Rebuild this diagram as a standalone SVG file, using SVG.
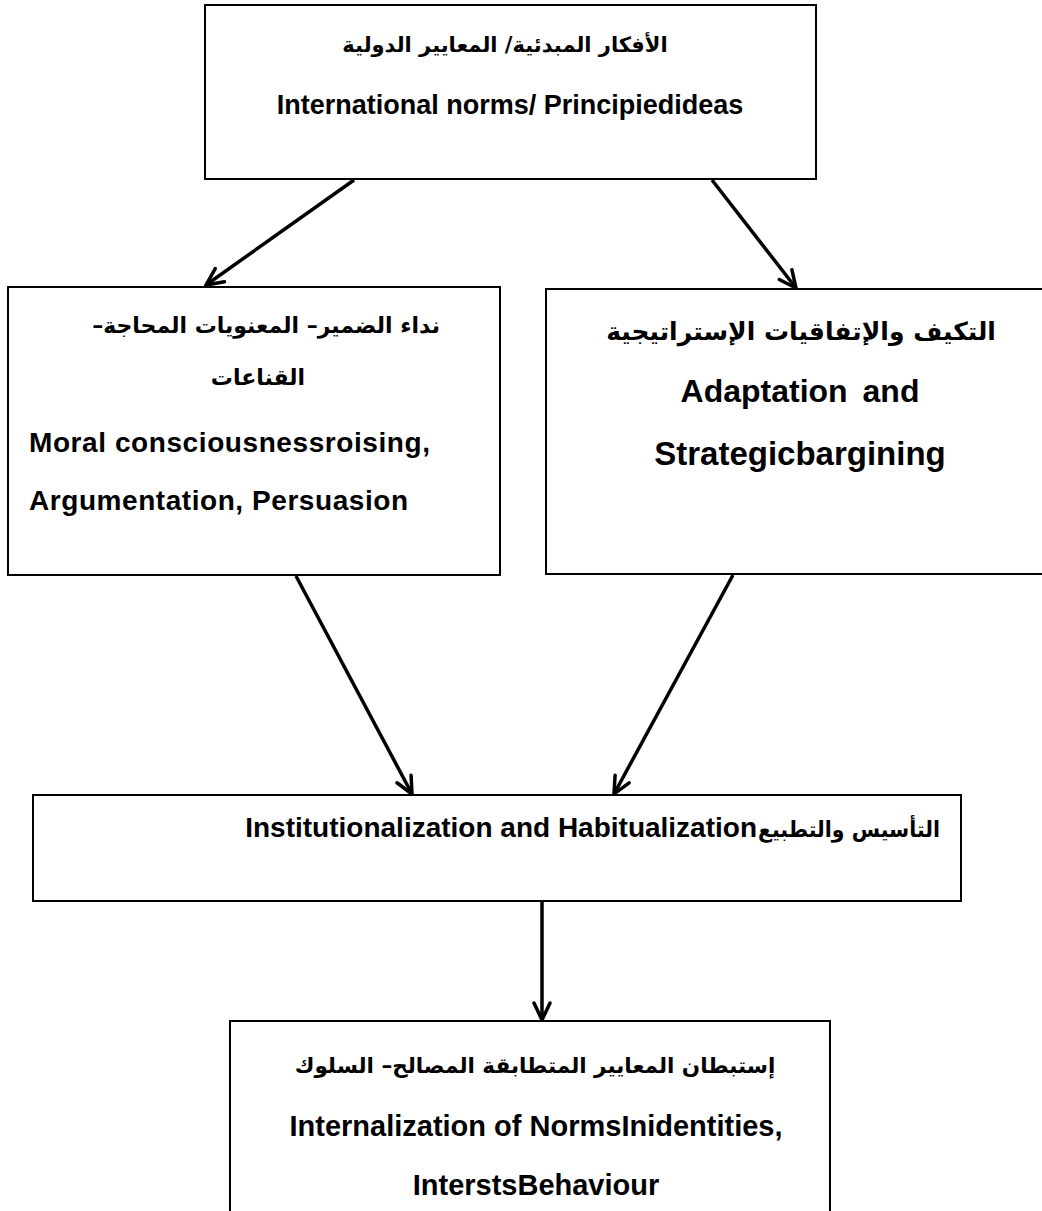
<svg xmlns="http://www.w3.org/2000/svg" width="1042" height="1211" viewBox="0 0 1042 1211">
<style>
.box{fill:#fff;stroke:#000;stroke-width:2}
.conn{stroke:#000;stroke-width:3.5;fill:none;marker-end:url(#arr)}
.en{font-family:"Liberation Sans",Arial,sans-serif;font-weight:bold;fill:#000}
.ar{font-family:"DejaVu Sans","Liberation Sans",sans-serif;font-weight:bold;fill:#000}
</style>
<defs>
<marker id="arr" viewBox="0 0 22 22" refX="20" refY="11" markerWidth="22" markerHeight="22" markerUnits="userSpaceOnUse" orient="auto">
<path d="M3,3 L20,11 L3,19" fill="none" stroke="#000" stroke-width="3.5" stroke-linecap="round" stroke-linejoin="miter"/>
</marker>
</defs>
<rect width="1042" height="1211" fill="#fff"/>
<g id="node-top">
<rect class="box" x="205" y="5" width="611" height="174"/>
<text class="ar" x="505" y="52" font-size="21" text-anchor="middle" direction="rtl">الأفكار المبدئية/ المعايير الدولية</text>
<text class="en" x="510" y="114" font-size="27" text-anchor="middle">International norms/ Principiedideas</text>
</g>
<g id="node-moral">
<rect class="box" x="8" y="287" width="492" height="288"/>
<text class="ar" x="440" y="333" font-size="22" text-anchor="start" direction="rtl">نداء الضمير– المعنويات المحاجة–</text>
<text class="ar" x="258" y="385" font-size="22" text-anchor="middle" direction="rtl">القناعات</text>
<text class="en" x="29" y="452" font-size="28" textLength="401">Moral consciousnessroising,</text>
<text class="en" x="29" y="510" font-size="28" textLength="379">Argumentation, Persuasion</text>
</g>
<g id="node-adapt">
<rect class="box" x="546" y="289" width="500" height="285"/>
<text class="ar" x="801" y="340" font-size="25" text-anchor="middle" direction="rtl">التكيف والإتفاقيات  الإستراتيجية</text>
<text class="en" x="800" y="402" font-size="32" text-anchor="middle" word-spacing="6">Adaptation and</text>
<text class="en" x="800" y="465" font-size="33" text-anchor="middle">Strategicbargining</text>
</g>
<g id="node-inst">
<rect class="box" x="33" y="795" width="928" height="106"/>
<text class="ar" x="940" y="837" font-size="22" text-anchor="end" textLength="182" lengthAdjust="spacingAndGlyphs">التأسيس والتطبيع</text>
<text class="en" x="757" y="837" font-size="28" text-anchor="end">Institutionalization and Habitualization</text>
</g>
<g id="node-intern">
<rect class="box" x="230" y="1021" width="600" height="200"/>
<text class="ar" x="535" y="1073" font-size="21.5" text-anchor="middle" direction="rtl">إستبطان المعايير المتطابقة المصالح– السلوك</text>
<text class="en" x="536" y="1136" font-size="29" text-anchor="middle">Internalization of NormsInidentities,</text>
<text class="en" x="536" y="1195" font-size="29" text-anchor="middle">InterstsBehaviour</text>
</g>
<g id="connectors">
<line class="conn" x1="354" y1="180" x2="206" y2="285"/>
<line class="conn" x1="712" y1="180" x2="796" y2="288"/>
<line class="conn" x1="296" y1="576" x2="412" y2="794"/>
<line class="conn" x1="733" y1="575" x2="614" y2="794"/>
<line class="conn" x1="542" y1="902" x2="542" y2="1020"/>
</g>
</svg>
